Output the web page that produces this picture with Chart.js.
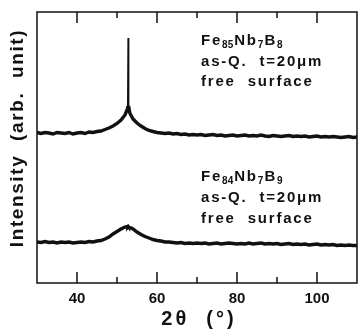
<!DOCTYPE html>
<html>
<head>
<meta charset="utf-8">
<script src="https://cdn.jsdelivr.net/npm/chart.js@4"></script>
<style>
  body { margin: 0; background: #fff; }
  canvas { display: block; }
</style>
</head>
<body>
<canvas id="xrd" width="359" height="329"></canvas>
<script>
// 2-theta angles (deg), extra points round the sharp peak
const twoTheta = [30,31,32,33,34,35,36,37,38,39,40,41,42,43,44,45,46,47,48,49,50,51,52,
  52.5,52.7,52.8,52.9,53.2,53.6,
  54,55,56,57,58,59,60,61,62,63,64,65,66,67,68,69,70,71,72,73,74,75,76,77,78,79,80,
  81,82,83,84,85,86,87,88,89,90,91,92,93,94,95,96,97,98,99,100,101,102,103,104,105,106,107,108,109,110];

// Fe85Nb7B8 (upper trace), arbitrary units
const fe85 = [150.5,149.5,150.5,150,149,150.5,150,149.5,150.5,149,150,150.5,149.5,151,150.5,151.5,152,153.5,155,157,159.5,163,168,
  173,177,245,177,170,167,
  164,160,157,154.5,152.5,151.5,150.5,150,149.5,150,149,149.5,148.5,149,148,148.5,148,148.5,147.5,148,148.5,147.5,148,147,147.5,148,147,
  147.5,148,147,147.5,147,148,147,146.5,147.5,147,146.5,147,147.5,146.5,147,146.5,147,146,146.5,147,146,146.5,146,146.5,146,145.5,146,146.5,145.5,146];

// Fe84Nb7B9 (lower trace), arbitrary units
const fe84 = [41,40.5,41.5,40.5,41,40,41,40.5,41,40,40.5,41,40.5,41.5,41,42,42.5,44,46,49,51.5,54,56,
  56.5,56,56.5,56,55.5,55,
  54,51,48.5,46.5,45,43.5,42.5,42,41,41,40.5,40,40.5,39.5,40,39.5,40,39.5,40,39,39.5,40,39,39.5,40,39.5,39,
  39.5,39,40,39,39.5,40,39,39.5,39,39.5,38.5,39,39.5,38.5,39,38.5,39,38,38.5,39,38,38.5,38,38.5,37.5,38,37.5,38,37.5,37.5];

const majorTicks = [40, 60, 80, 100];
const minorTicks = [50, 70, 90];

const labels = [
  { x: 201, y: 45, parts: [["Fe", 0], ["85", 1], ["Nb", 0], ["7", 1], ["B", 0], ["8", 1]] },
  { x: 201, y: 66, parts: [["as-Q.  t=20\u03bcm", 0]] },
  { x: 201, y: 86, parts: [["free  surface", 0]] },
  { x: 201, y: 181, parts: [["Fe", 0], ["84", 1], ["Nb", 0], ["7", 1], ["B", 0], ["9", 1]] },
  { x: 201, y: 202, parts: [["as-Q.  t=20\u03bcm", 0]] },
  { x: 201, y: 223, parts: [["free  surface", 0]] }
];

const xTitle = "2\u03b8  (\u00b0)";
const yTitle = "Intensity  (arb.  unit)";

const toPoints = ys => twoTheta.map((t, i) => ({ x: t, y: ys[i] }));

const framePlugin = {
  id: "frame",
  afterDraw(chart) {
    const { ctx, chartArea: a, scales } = chart;
    ctx.save();
    ctx.strokeStyle = "#111";
    ctx.lineWidth = 1.5;
    ctx.strokeRect(a.left, a.top, a.right - a.left, a.bottom - a.top);
    // inward ticks, bottom and top
    const tick = (v, len) => {
      const px = scales.x.getPixelForValue(v);
      ctx.beginPath();
      ctx.moveTo(px, a.bottom); ctx.lineTo(px, a.bottom - len);
      ctx.moveTo(px, a.top); ctx.lineTo(px, a.top + len);
      ctx.stroke();
    };
    majorTicks.forEach(v => tick(v, 11));
    minorTicks.forEach(v => tick(v, 6));

    ctx.fillStyle = "#111";
    ctx.textBaseline = "alphabetic";

    // sample labels
    labels.forEach(l => {
      let x = l.x;
      l.parts.forEach(([s, sub]) => {
        ctx.font = sub ? "bold 10px 'Liberation Sans'" : "bold 15px 'Liberation Sans'";
        ctx.letterSpacing = sub ? "0px" : "1.8px";
        ctx.fillText(s, x, l.y + (sub ? 3 : 0));
        x += ctx.measureText(s).width + (sub ? 1 : 0);
      });
    });

    // axis titles
    ctx.font = "bold 20px 'Liberation Sans'";
    ctx.letterSpacing = "3px";
    ctx.textAlign = "center";
    ctx.fillText(xTitle, 199, 325);

    ctx.translate(23, 138);
    ctx.rotate(-Math.PI / 2);
    ctx.font = "bold 19px 'Liberation Sans'";
    ctx.letterSpacing = "1.6px";
    ctx.fillText(yTitle, 0, 0);
    ctx.restore();
  }
};

new Chart(document.getElementById("xrd"), {
  type: "line",
  data: {
    datasets: [
      {
        data: toPoints(fe85), borderColor: "#111", borderWidth: 3.4, pointRadius: 0, tension: 0,
        // the sharp crystalline peak is a thin stroke in the original
        segment: { borderWidth: c => (c.p0.parsed.y > 200 || c.p1.parsed.y > 200 ? 1.6 : undefined) }
      },
      { data: toPoints(fe84), borderColor: "#111", borderWidth: 3.4, pointRadius: 0, tension: 0 }
    ]
  },
  options: {
    responsive: false,
    devicePixelRatio: 1,
    animation: false,
    layout: { padding: { top: 12, right: 2, left: 0, bottom: 0 } },
    plugins: { legend: { display: false }, tooltip: { enabled: false } },
    scales: {
      x: {
        type: "linear",
        min: 30,
        max: 110,
        afterBuildTicks: s => { s.ticks = majorTicks.map(v => ({ value: v })); },
        afterFit: s => { s.height = 46; },
        grid: { display: false, drawTicks: false },
        border: { display: false },
        ticks: {
          padding: 7,
          color: "#111",
          font: { family: "Liberation Sans", size: 15, weight: "bold" }
        }
      },
      y: {
        min: 0,
        max: 271,
        afterFit: s => { s.width = 37; },
        grid: { display: false, drawTicks: false },
        border: { display: false },
        ticks: { display: false }
      }
    }
  },
  plugins: [framePlugin]
});
</script>
</body>
</html>
